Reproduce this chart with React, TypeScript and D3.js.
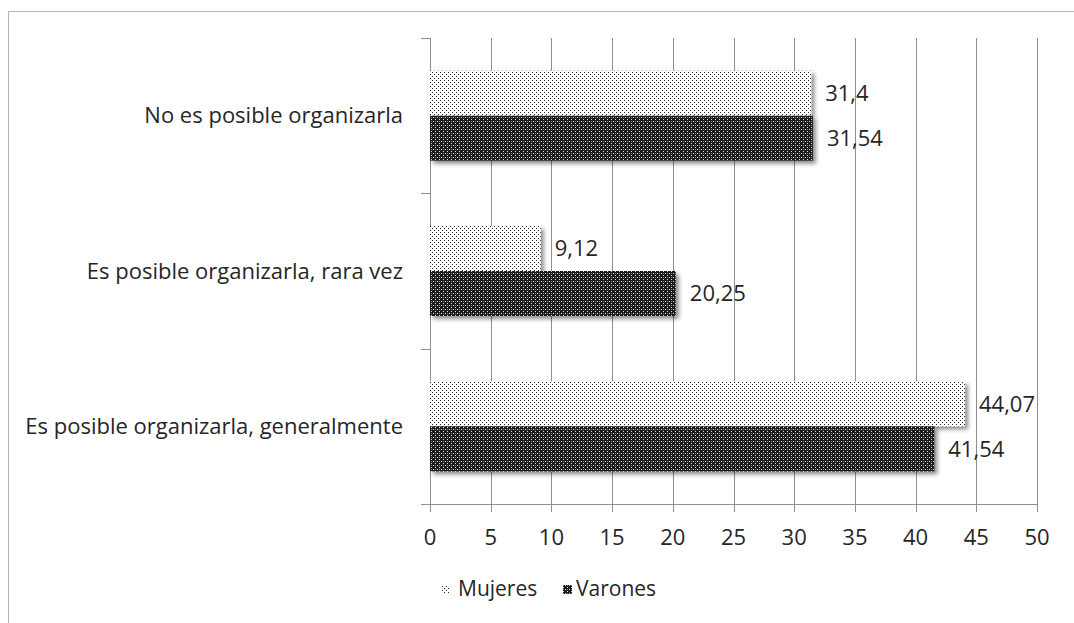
import React from "react";
import * as d3 from "d3";

const categories = [
  "No es posible organizarla",
  "Es posible organizarla, rara vez",
  "Es posible organizarla, generalmente",
];
const seriesNames = ["Mujeres", "Varones"];
const mujeres = [31.4, 9.12, 44.07];
const varones = [31.54, 20.25, 41.54];
const valueLabels = [
  ["31,4", "9,12", "44,07"],
  ["31,54", "20,25", "41,54"],
];
const xTicks = [0, 5, 10, 15, 20, 25, 30, 35, 40, 45, 50];

const W = 1074;
const H = 623;
const FONT = "'Open Sans', Lato, sans-serif";
const GRID = "#8e8e8e";
const FS = 22;
const LFS = 21;

export default function App() {
  const x = d3.scaleLinear().domain([0, 50]).range([430, 1037]);
  const y = d3.scaleBand<string>().domain(categories).range([38, 504]).paddingInner(0).paddingOuter(0);
  const yInner = d3
    .scaleBand<string>()
    .domain(seriesNames)
    .range([0, y.bandwidth()])
    .paddingInner(0)
    .paddingOuter(0.726);
  const seriesData = [mujeres, varones];
  const fills = ["url(#patMuj)", "url(#patVar)"];
  const boundaries = [38, ...categories.map((c) => (y(c) as number) + y.bandwidth())];

  return (
    <svg
      width={W}
      height={H}
      style={{ position: "absolute", left: 0, top: 0, background: "#fff" }}
      fontFamily={FONT}
    >
      <defs>
        <pattern id="patMuj" patternUnits="userSpaceOnUse" width={4} height={4}>
          <rect width={4} height={4} fill="#ffffff" />
          <rect x={0} y={0} width={1} height={1} fill="#222" />
          <rect x={2} y={2} width={1} height={1} fill="#222" />
        </pattern>
        <pattern id="patVar" patternUnits="userSpaceOnUse" width={4} height={4}>
          <rect width={4} height={4} fill="#1c1c1c" />
          <rect x={1} y={1} width={1} height={1} fill="#d8d8d8" />
          <rect x={3} y={3} width={1} height={1} fill="#d8d8d8" />
          <rect x={3} y={1} width={1} height={1} fill="#777" />
        </pattern>
        <filter id="shadow" x="-5%" y="-20%" width="115%" height="160%">
          <feDropShadow dx={3} dy={3} stdDeviation={2} floodColor="#000" floodOpacity={0.45} />
        </filter>
      </defs>

      {/* chart border */}
      <rect x={8.5} y={11.5} width={1200} height={800} fill="none" stroke="#b5b5b5" strokeWidth={1} />

      {/* vertical gridlines */}
      {xTicks.map((t) => (
        <line
          key={"g" + t}
          x1={Math.round(x(t)) + 0.5}
          x2={Math.round(x(t)) + 0.5}
          y1={38}
          y2={512}
          stroke={GRID}
          strokeWidth={1}
        />
      ))}
      {/* x axis line */}
      <line x1={421} x2={Math.round(x(50)) + 0.5} y1={504.5} y2={504.5} stroke={GRID} strokeWidth={1} />
      {/* category ticks */}
      {boundaries.map((b, i) => (
        <line key={"ct" + i} x1={421} x2={430} y1={Math.round(b) + 0.5} y2={Math.round(b) + 0.5} stroke={GRID} />
      ))}

      {/* bars */}
      {categories.map((c, ci) => (
        <g key={c}>
          {seriesNames.map((s, si) => {
            const v = seriesData[si][ci];
            const by = (y(c) as number) + (yInner(s) as number);
            return (
              <rect
                key={s}
                x={x(0)}
                y={by}
                width={x(v) - x(0)}
                height={yInner.bandwidth()}
                fill={fills[si]}
                filter="url(#shadow)"
              />
            );
          })}
        </g>
      ))}

      {/* value labels */}
      {categories.map((c, ci) =>
        seriesNames.map((s, si) => {
          const v = seriesData[si][ci];
          const cy = (y(c) as number) + (yInner(s) as number) + yInner.bandwidth() / 2;
          return (
            <text key={c + s} x={x(v) + 14} y={cy} dy="0.35em" fontSize={FS} fill="#262626">
              {valueLabels[si][ci]}
            </text>
          );
        })
      )}

      {/* category labels */}
      {categories.map((c) => (
        <text
          key={"cl" + c}
          x={403}
          y={(y(c) as number) + y.bandwidth() / 2}
          dy="0.35em"
          textAnchor="end"
          fontSize={FS}
          fill="#262626"
        >
          {c}
        </text>
      ))}

      {/* x tick labels */}
      {xTicks.map((t) => (
        <text key={"tl" + t} x={x(t)} y={537} dy="0.35em" textAnchor="middle" fontSize={FS} fill="#262626">
          {t}
        </text>
      ))}

      {/* legend */}
      <g>
        <rect x={441} y={585} width={8} height={8} fill="url(#patMuj)" />
        <text x={458} y={589} dy="0.35em" fontSize={LFS} fill="#262626">
          {seriesNames[0]}
        </text>
        <rect x={563} y={585} width={9} height={9} fill="url(#patVar)" />
        <text x={576} y={589} dy="0.35em" fontSize={LFS} fill="#262626">
          {seriesNames[1]}
        </text>
      </g>
    </svg>
  );
}
